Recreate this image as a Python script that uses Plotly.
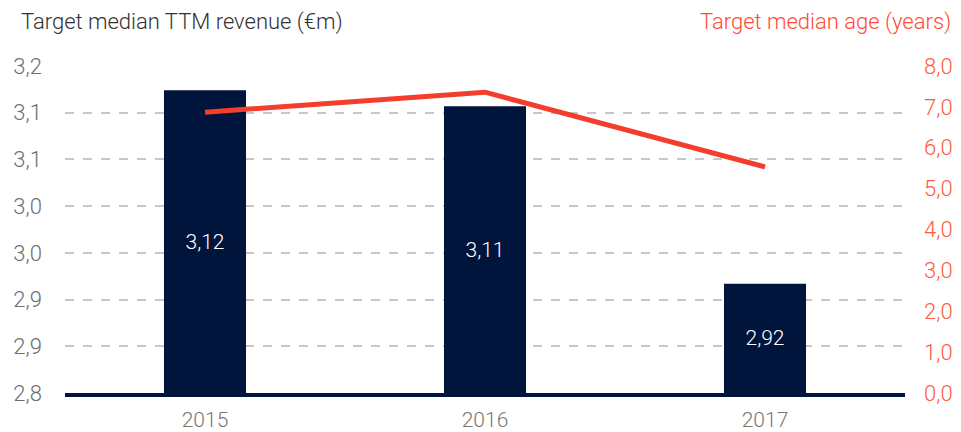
import plotly.graph_objects as go

years = ["2015", "2016", "2017"]
revenue = [3.124, 3.107, 2.917]
revenue_labels = ["3,12", "3,11", "2,92"]
age = [6.87, 7.36, 5.53]

left_ticks = [2.80, 2.85, 2.90, 2.95, 3.00, 3.05, 3.10, 3.15]
left_labels = ["2,8", "2,9", "2,9", "3,0", "3,0", "3,1", "3,1", "3,2"]
right_ticks = [0, 1, 2, 3, 4, 5, 6, 7, 8]
right_labels = ["0,0", "1,0", "2,0", "3,0", "4,0", "5,0", "6,0", "7,0", "8,0"]

axis_min = 2.8
navy = "#00143C"
red = "#F53D2D"
font = "Roboto"

fig = go.Figure()
# bars start at the bottom of the left axis, so y holds the height above it
fig.add_trace(go.Bar(
    x=years, y=[v - axis_min for v in revenue], base=axis_min, width=0.293,
    marker=dict(color=navy, line=dict(width=0)),
    text=revenue_labels, textposition="inside", insidetextanchor="middle",
    textfont=dict(color="white", size=21, family=font, weight=300),
    hoverinfo="skip",
))
fig.add_trace(go.Scatter(
    x=years, y=age, yaxis="y2", mode="lines",
    line=dict(color=red, width=5), hoverinfo="skip",
))

# page body has an 8px margin, so the figure is a bit smaller than the window
fig.update_layout(
    width=953, height=424,
    margin=dict(l=57, r=56, t=58, b=39),
    plot_bgcolor="white", paper_bgcolor="white",
    showlegend=False,
    font=dict(family=font, weight=300),
    xaxis=dict(
        showgrid=False, showline=True, linecolor=navy, linewidth=4,
        tickfont=dict(size=21, color="#777777", weight=300),
        ticklabelstandoff=5, automargin=False,
    ),
    yaxis=dict(
        range=[axis_min, 3.15], tickvals=left_ticks, ticktext=left_labels,
        showgrid=True, gridcolor="#C8C8C8", gridwidth=1.5, griddash="dash",
        zeroline=False, showline=False,
        tickfont=dict(size=22, color="#6E6E6E", weight=300),
        ticklabelstandoff=22, automargin=False,
    ),
    yaxis2=dict(
        range=[0, 8], tickvals=right_ticks, ticktext=right_labels,
        overlaying="y", side="right", showgrid=False, zeroline=False,
        tickfont=dict(size=22, color="#FF5A40", weight=300),
        ticklabelstandoff=18, automargin=False,
    ),
    annotations=[
        dict(text="Target median TTM revenue (€m)", xref="paper", yref="paper",
             x=-0.055, y=1.1346, xanchor="left", yanchor="middle", showarrow=False,
             font=dict(size=22, color="#333333", family=font, weight=300)),
        dict(text="Target median age (years)", xref="paper", yref="paper",
             x=1.057, y=1.1346, xanchor="right", yanchor="middle", showarrow=False,
             font=dict(size=22, color="#FF4B33", family=font, weight=300)),
    ],
)

fig.write_html("out.html")
